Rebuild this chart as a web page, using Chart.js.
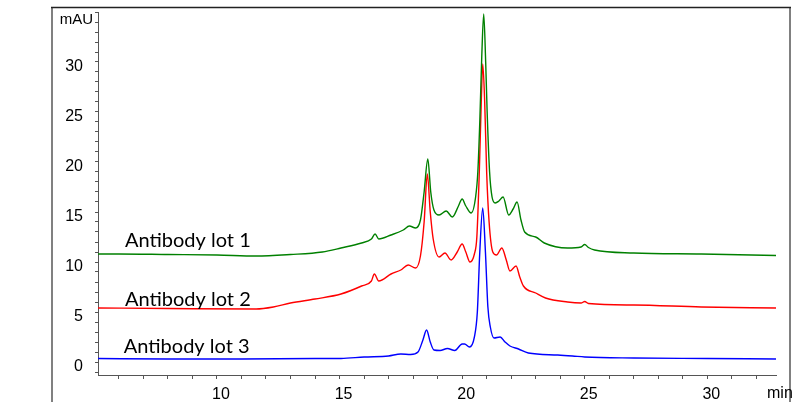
<!DOCTYPE html>
<html>
<head>
<meta charset="utf-8">
<script src="https://cdn.jsdelivr.net/npm/chart.js@4/dist/chart.umd.min.js"></script>
<style>
  html, body { margin: 0; padding: 0; background: #fff; }
  #wrap { width: 800px; height: 402px; }
</style>
</head>
<body>
<div id="wrap"><canvas id="chrom" width="800" height="402"></canvas></div>
<script>
// Chromatogram traces, [time (min), absorbance (mAU)]
const lot1 = [
  [5.15,10.8],[6,10.8],[8,10.75],[10,10.7],[11.6,10.6],[13,10.75],[14.3,11.0],[15.06,11.4],
  [15.9,11.9],[16.3,12.3],[16.45,12.8],[16.6,12.3],[17.1,12.7],[17.6,13.2],[17.85,13.6],
  [18.1,13.4],[18.3,14.2],[18.45,17],[18.6,20.3],[18.72,17],[18.85,15.2],[19.06,14.7],
  [19.35,15.1],[19.6,14.5],[19.85,15.6],[20.0,16.3],[20.15,15.6],[20.37,14.9],[20.55,16.5],
  [20.64,19],[20.72,24],[20.8,30.5],[20.88,34.8],[20.96,30],[21.02,25],[21.12,19],[21.22,16.5],
  [21.35,15.9],[21.5,16.1],[21.67,16.5],[21.9,14.7],[22.08,15.3],[22.24,16.0],[22.4,14.2],
  [22.55,13.0],[23.0,12.5],[23.35,11.9],[24.3,11.4],[24.85,11.5],[25.0,11.75],[25.15,11.45],
  [25.4,11.2],[27,10.9],[29.75,10.8],[32.8,10.65]
];
const lot2 = [
  [5.15,5.4],[8,5.35],[11.6,5.3],[12.3,5.5],[13,5.9],[14,6.3],[15.06,6.8],[15.9,7.6],
  [16.3,8.1],[16.42,8.8],[16.6,8.1],[17.1,8.8],[17.5,9.2],[17.8,9.7],[18.1,9.4],[18.3,10.6],
  [18.45,14],[18.58,18.8],[18.7,15],[18.82,12.3],[19.06,10.5],[19.3,10.9],[19.55,10.2],
  [19.8,11.0],[20.0,11.8],[20.15,11.0],[20.32,10.0],[20.5,10.8],[20.6,12.5],[20.7,19],
  [20.78,26],[20.84,29.8],[20.92,26],[21.0,19],[21.1,14],[21.25,11.0],[21.4,10.7],
  [21.62,11.4],[21.8,10.2],[21.95,9.1],[22.2,9.6],[22.35,8.5],[22.5,7.6],[23.0,6.9],
  [23.4,6.4],[24.3,6.0],[24.85,5.9],[25.0,6.05],[25.15,5.85],[27,5.7],[29.75,5.5],[32.8,5.4]
];
const lot3 = [
  [5.15,0.35],[8,0.3],[11,0.3],[14,0.35],[15.06,0.35],[16,0.5],[17.0,0.6],[17.5,0.8],
  [17.9,0.75],[18.2,1.0],[18.4,2.2],[18.55,3.2],[18.7,2.0],[18.85,1.2],[19.1,1.15],
  [19.4,1.35],[19.7,1.15],[20.0,1.8],[20.1,1.8],[20.3,1.5],[20.5,2.5],[20.62,5],[20.72,11],
  [20.84,15.4],[20.95,11],[21.05,5.5],[21.15,3.5],[21.3,2.4],[21.55,2.5],[21.75,2.0],
  [21.95,1.6],[22.3,1.3],[22.7,0.9],[23.9,0.7],[24.5,0.6],[25,0.5],[27,0.4],[30,0.35],[32.8,0.3]
];

const seriesNames = ['Antibody lot 1', 'Antibody lot 2', 'Antibody lot 3'];
const seriesColors = ['#008000', '#ff0000', '#0000ff'];
const xMajorTicks = [10, 15, 20, 25, 30];
const yMajorTicks = [0, 5, 10, 15, 20, 25, 30];

// where each trace name sits (data coords: left edge / baseline)
const nameAnchors = [[6.25, 11.5], [6.25, 5.6], [6.2, 0.9]];

const toXY = arr => arr.map(p => ({x: p[0], y: p[1]}));

const frame = {
  id: 'frame',
  afterDraw(chart) {
    const ctx = chart.ctx, sx = chart.scales.x, sy = chart.scales.y;
    ctx.save();
    // outer box
    ctx.strokeStyle = '#808080';
    ctx.lineWidth = 2;
    ctx.beginPath();
    ctx.moveTo(52, 7); ctx.lineTo(52, 402);
    ctx.moveTo(790, 7); ctx.lineTo(790, 402);
    ctx.stroke();
    ctx.strokeStyle = '#222';
    ctx.lineWidth = 1.5;
    ctx.beginPath();
    ctx.moveTo(51, 7.5); ctx.lineTo(791, 7.5);
    ctx.stroke();

    // unit labels
    ctx.fillStyle = '#000';
    ctx.font = '15px "Liberation Sans", Arial, sans-serif';
    ctx.textAlign = 'right';
    ctx.textBaseline = 'middle';
    ctx.fillText('mAU', 93, 20);
    ctx.textAlign = 'left';
    ctx.font = '16px "Liberation Sans", Arial, sans-serif';
    ctx.fillText('min', 767, 394);

    // trace names
    ctx.font = '20px Lato, "Open Sans", sans-serif';
    ctx.textBaseline = 'alphabetic';
    seriesNames.forEach((n, i) => {
      const a = nameAnchors[i];
      ctx.fillText(n, sx.getPixelForValue(a[0]), sy.getPixelForValue(a[1]));
    });
    ctx.restore();
  }
};

// keep label overhang from shrinking the plot area
const noPad = s => { s.paddingTop = 0; s.paddingBottom = 0; s.paddingLeft = 0; s.paddingRight = 0; };

new Chart(document.getElementById('chrom'), {
  type: 'line',
  data: {
    datasets: [lot1, lot2, lot3].map((d, i) => ({
      label: seriesNames[i],
      data: toXY(d),
      borderColor: seriesColors[i],
      borderWidth: 1.4,
      pointRadius: 0,
      fill: false,
      cubicInterpolationMode: 'monotone'
    }))
  },
  options: {
    responsive: false,
    animation: false,
    devicePixelRatio: 1,
    layout: { padding: { left: 0, top: 12, right: 24, bottom: 0 } },
    plugins: { legend: { display: false }, tooltip: { enabled: false } },
    scales: {
      x: {
        type: 'linear',
        min: 5.15,
        max: 32.8,
        afterFit: s => { s.height = 27; noPad(s); },
        border: { display: true, color: '#555', width: 1 },
        grid: { drawOnChartArea: false, drawTicks: true, tickLength: 4, color: '#555' },
        ticks: {
          stepSize: 1,
          includeBounds: false,
          autoSkip: false,
          maxRotation: 0,
          padding: 6,
          labelOffset: 4,
          color: '#000',
          font: { family: '"Liberation Sans", Arial, sans-serif', size: 16 },
          callback: v => xMajorTicks.includes(v) ? String(v) : ''
        }
      },
      y: {
        type: 'linear',
        min: -1.3,
        max: 35,
        afterFit: s => { s.width = 98; noPad(s); },
        border: { display: true, color: '#555', width: 1 },
        grid: { drawOnChartArea: false, drawTicks: true, tickLength: 3, color: '#555' },
        ticks: {
          stepSize: 1,
          includeBounds: false,
          autoSkip: false,
          padding: 12,
          labelOffset: 5,
          color: '#000',
          font: { family: '"Liberation Sans", Arial, sans-serif', size: 16 },
          callback: v => yMajorTicks.includes(v) ? String(v) : ''
        }
      }
    }
  },
  plugins: [frame]
});
</script>
</body>
</html>
